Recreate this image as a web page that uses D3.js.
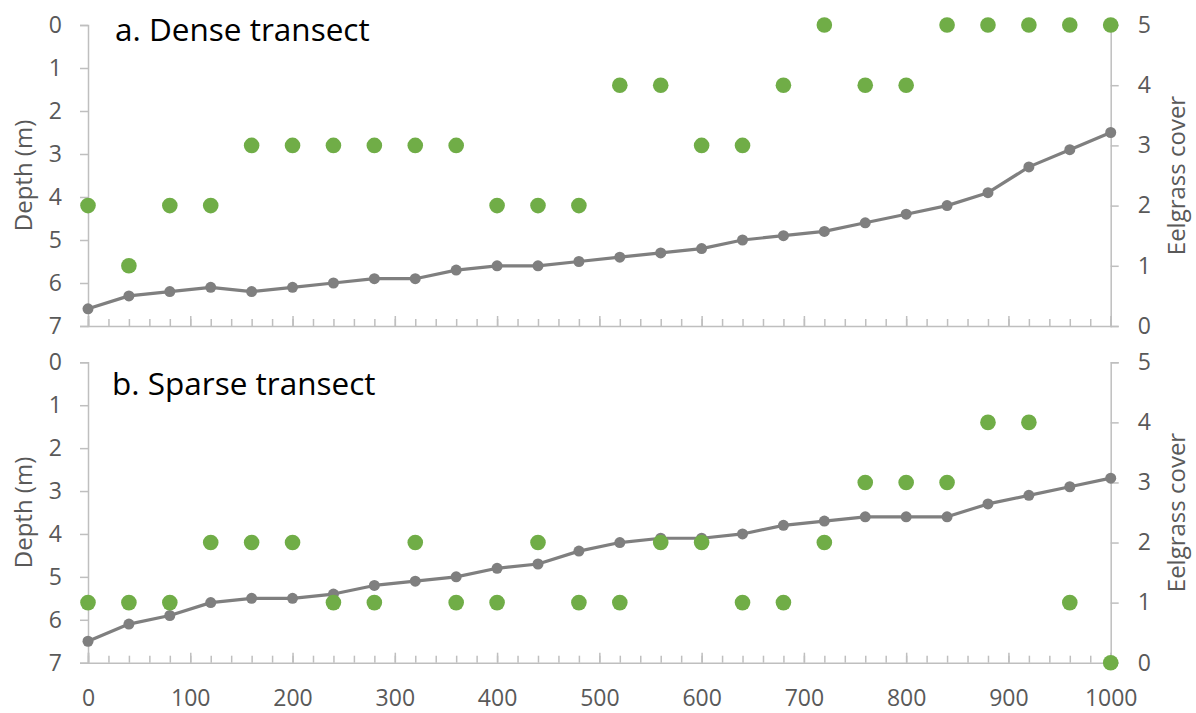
<!DOCTYPE html>
<html>
<head>
<meta charset="utf-8">
<script src="https://cdn.jsdelivr.net/npm/d3@7"></script>
<style>
  html, body { margin: 0; padding: 0; background: #ffffff; }
  svg { display: block; }
  text { font-family: "Open Sans", "Noto Sans", sans-serif; }
</style>
</head>
<body>
<svg id="chart" width="1196" height="713"></svg>
<script>
// Distance along transect (m)
const distances = [0, 40, 80, 120, 160, 200, 240, 280, 320, 360, 400, 440, 480,
                   520, 560, 600, 640, 680, 720, 760, 800, 840, 880, 920, 960, 1000];

// a. Dense transect
const denseDepth = [6.6, 6.3, 6.2, 6.1, 6.2, 6.1, 6.0, 5.9, 5.9, 5.7, 5.6, 5.6, 5.5,
                    5.4, 5.3, 5.2, 5.0, 4.9, 4.8, 4.6, 4.4, 4.2, 3.9, 3.3, 2.9, 2.5];
const denseCover = [2, 1, 2, 2, 3, 3, 3, 3, 3, 3, 2, 2, 2,
                    4, 4, 3, 3, 4, 5, 4, 4, 5, 5, 5, 5, 5];

// b. Sparse transect
const sparseDepth = [6.5, 6.1, 5.9, 5.6, 5.5, 5.5, 5.4, 5.2, 5.1, 5.0, 4.8, 4.7, 4.4,
                     4.2, 4.1, 4.1, 4.0, 3.8, 3.7, 3.6, 3.6, 3.6, 3.3, 3.1, 2.9, 2.7];
const sparseCover = [1, 1, 1, 2, 2, 2, 1, 1, 2, 1, 1, 2, 1,
                     1, 2, 2, 1, 1, 2, 3, 3, 3, 4, 4, 1, 0];

// Tick labels
const depthTicks = [0, 1, 2, 3, 4, 5, 6, 7];
const coverTicks = [0, 1, 2, 3, 4, 5];
const distanceTicks = [0, 100, 200, 300, 400, 500, 600, 700, 800, 900, 1000];

const panels = [
  { title: "a. Dense transect", depth: denseDepth, cover: denseCover, top: 25, bottom: 326, xLabels: false,
    titleX: 115, titleY: 41 },
  { title: "b. Sparse transect", depth: sparseDepth, cover: sparseCover, top: 362.3, bottom: 662.7, xLabels: true,
    titleX: 112, titleY: 395 }
];

const COLORS = {
  axis: "#bfbfbf",
  tickText: "#595959",
  line: "#7f7f7f",
  cover: "#70ad47",
  title: "#000000"
};

const svg = d3.select("#chart");
const x = d3.scaleLinear().domain([0, 1000]).range([88, 1110.7]);
const minorTicks = d3.range(0, 1001, 20);

panels.forEach(p => {
  const yDepth = d3.scaleLinear().domain([0, 7]).range([p.top, p.bottom]);
  const yCover = d3.scaleLinear().domain([0, 5]).range([p.bottom, p.top]);
  const g = svg.append("g");

  // Left axis: depth (m), increasing downward
  const left = g.append("g")
    .attr("transform", `translate(${x(0)},0)`)
    .call(d3.axisLeft(yDepth).tickValues(depthTicks).tickSize(8).tickPadding(18).tickFormat(d3.format("d")));

  // Right axis: eelgrass cover
  const right = g.append("g")
    .attr("transform", `translate(${x(1000)},0)`)
    .call(d3.axisRight(yCover).tickValues(coverTicks).tickSize(8).tickPadding(19).tickFormat(d3.format("d")));

  // Bottom axis: minor ticks every 20 m pointing inward
  const minor = g.append("g")
    .attr("transform", `translate(0,${p.bottom})`)
    .call(d3.axisBottom(x).tickValues(minorTicks).tickSize(-7).tickFormat(""));
  minor.select(".domain").remove();

  // Bottom axis: major ticks every 100 m, labels on the lower panel only
  const major = g.append("g")
    .attr("transform", `translate(0,${p.bottom})`)
    .call(d3.axisBottom(x).tickValues(distanceTicks).tickSize(-10).tickPadding(27)
      .tickFormat(p.xLabels ? d3.format("d") : ""));

  [left, right, minor, major].forEach(a => {
    a.selectAll(".domain").attr("stroke", COLORS.axis).attr("stroke-width", 1.5);
    a.selectAll(".tick line").attr("stroke", COLORS.axis).attr("stroke-width", 1.5);
    a.selectAll(".tick text").attr("fill", COLORS.tickText).attr("font-size", 23)
      .style("font-family", "'Open Sans', 'Noto Sans', sans-serif");
  });

  // Axis titles
  const midY = (p.top + p.bottom) / 2;
  g.append("text")
    .attr("transform", `translate(32,${midY}) rotate(-90)`)
    .attr("text-anchor", "middle")
    .attr("fill", COLORS.tickText)
    .attr("font-size", 24)
    .text("Depth (m)");
  g.append("text")
    .attr("transform", `translate(1185,${midY}) rotate(-90)`)
    .attr("text-anchor", "middle")
    .attr("fill", COLORS.tickText)
    .attr("font-size", 24)
    .text("Eelgrass cover");

  // Panel title
  g.append("text")
    .attr("x", p.titleX)
    .attr("y", p.titleY)
    .attr("fill", COLORS.title)
    .attr("font-size", 31.5)
    .text(p.title);

  // Depth profile line with markers
  const line = d3.line()
    .x((d, i) => x(distances[i]))
    .y(d => yDepth(d));
  g.append("path")
    .datum(p.depth)
    .attr("fill", "none")
    .attr("stroke", COLORS.line)
    .attr("stroke-width", 3.2)
    .attr("stroke-linejoin", "round")
    .attr("d", line);
  g.append("g").selectAll("circle")
    .data(p.depth)
    .join("circle")
    .attr("cx", (d, i) => x(distances[i]))
    .attr("cy", d => yDepth(d))
    .attr("r", 5.5)
    .attr("fill", COLORS.line);

  // Eelgrass cover points
  g.append("g").selectAll("circle")
    .data(p.cover)
    .join("circle")
    .attr("cx", (d, i) => x(distances[i]))
    .attr("cy", d => yCover(d))
    .attr("r", 7.8)
    .attr("fill", COLORS.cover);
});
</script>
</body>
</html>
